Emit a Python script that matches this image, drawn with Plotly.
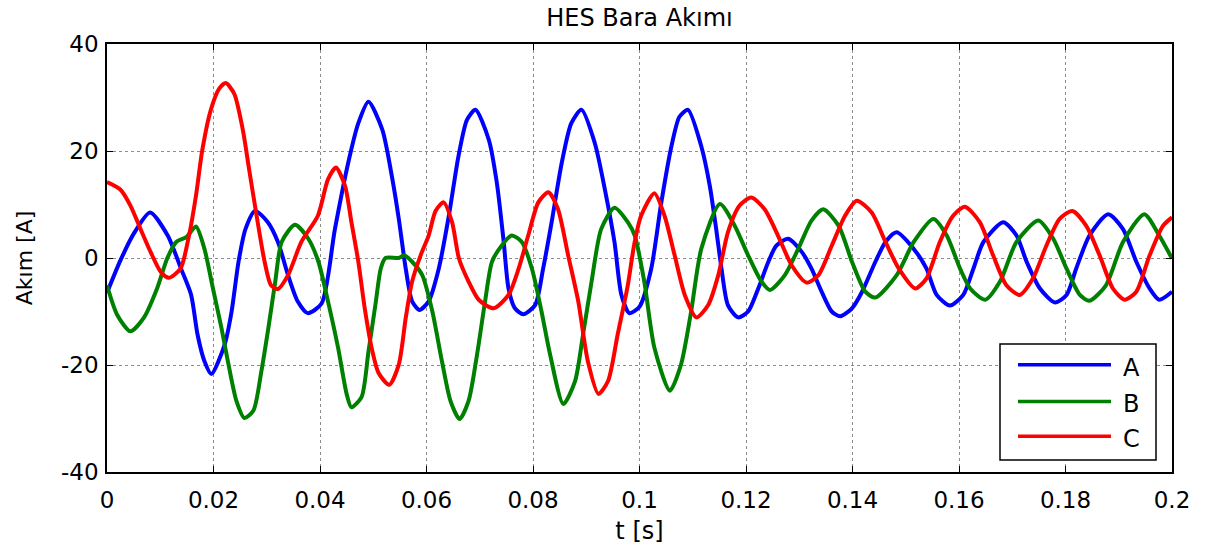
import plotly.graph_objects as go

# ── DATA ──────────────────────────────────────────────────────────────────────
t_a = [0.0, 0.0025, 0.0050, 0.0081, 0.0114, 0.0139, 0.0158, 0.0170, 0.0183, 0.0196,
       0.0221, 0.0234, 0.0247, 0.0260, 0.0278, 0.0302, 0.0321, 0.0340, 0.0358, 0.0377,
       0.0403, 0.0428, 0.0453, 0.0472, 0.0491, 0.0517, 0.0536, 0.0548, 0.0561, 0.0573,
       0.0587, 0.0604, 0.0623, 0.0642, 0.0660, 0.0676, 0.0692, 0.0717, 0.0732, 0.0745,
       0.0754, 0.0766, 0.0782, 0.0804, 0.0819, 0.0835, 0.0854, 0.0872, 0.0891, 0.0916,
       0.0935, 0.0953, 0.0966, 0.0981, 0.1000, 0.1022, 0.1041, 0.1060, 0.1075, 0.1091,
       0.1116, 0.1132, 0.1144, 0.1154, 0.1166, 0.1185, 0.1204, 0.1223, 0.1242, 0.1257,
       0.1279, 0.1305, 0.1323, 0.1342, 0.1361, 0.1377, 0.1399, 0.1418, 0.1443, 0.1462,
       0.1483, 0.1515, 0.1539, 0.1558, 0.1583, 0.1608, 0.1627, 0.1646, 0.1683, 0.1708,
       0.1727, 0.1752, 0.1780, 0.1802, 0.1820, 0.1845, 0.1880, 0.1908, 0.1933, 0.1958,
       0.1976, 0.2000]
i_a = [-6.5, -0.5, 4.5, 8.5, 4.2, -2.0, -6.9, -14.3, -19.3, -21.7,
       -16.2, -10.0, -0.7, 5.4, 8.8, 6.7, 3.0, -3.2, -8.1, -10.3,
       -8.5, 5.4, 17.8, 25.2, 29.2, 24.0, 14.7, 7.3, -2.0, -8.1,
       -9.7, -8.1, -2.0, 7.9, 19.0, 25.8, 27.7, 22.1, 14.1, 3.0,
       -5.7, -9.4, -10.5, -8.8, -2.0, 6.7, 17.8, 25.2, 27.7, 21.5,
       12.8, 3.0, -6.9, -10.3, -9.1, -2.0, 10.4, 20.9, 26.4, 27.7,
       20.9, 13.5, 5.4, -2.0, -8.8, -11.1, -10.0, -5.7, -0.7, 2.3,
       3.6, 1.1, -2.0, -6.3, -10.0, -10.9, -9.4, -6.3, -0.7, 3.0,
       4.8, 1.7, -2.0, -6.9, -8.9, -6.9, -2.0, 3.0, 6.7, 4.2,
       -0.7, -5.7, -8.3, -6.9, -2.0, 4.2, 8.2, 5.4, -0.7, -5.7,
       -7.8, -6.3]

t_b = [0.0, 0.0019, 0.0044, 0.0069, 0.0094, 0.0113, 0.0130, 0.0149, 0.0167, 0.0183,
       0.0199, 0.0215, 0.0227, 0.0243, 0.0258, 0.0275, 0.0290, 0.0303, 0.0316, 0.0328,
       0.0353, 0.0378, 0.0397, 0.0415, 0.0434, 0.0450, 0.0459, 0.0478, 0.0491, 0.0505,
       0.0514, 0.0523, 0.0548, 0.0558, 0.0573, 0.0592, 0.0611, 0.0629, 0.0645, 0.0662,
       0.0679, 0.0695, 0.0710, 0.0723, 0.0741, 0.0760, 0.0779, 0.0798, 0.0816, 0.0832,
       0.0857, 0.0879, 0.0894, 0.0910, 0.0928, 0.0953, 0.0978, 0.0991, 0.1009, 0.1028,
       0.1057, 0.1078, 0.1097, 0.1116, 0.1151, 0.1179, 0.1204, 0.1229, 0.1245, 0.1273,
       0.1298, 0.1323, 0.1345, 0.1374, 0.1399, 0.1424, 0.1443, 0.1483, 0.1515, 0.1552,
       0.1577, 0.1602, 0.1621, 0.1649, 0.1677, 0.1708, 0.1749, 0.1777, 0.1802, 0.1827,
       0.1845, 0.1876, 0.1908, 0.1948, 0.1976, 0.2000]
i_b = [-5.1, -10.6, -13.7, -11.2, -5.7, -0.1, 3.0, 3.9, 5.9, 1.7,
       -5.7, -13.1, -19.3, -26.7, -29.9, -28.5, -21.1, -13.1, -4.4, 3.0,
       6.2, 3.6, -0.7, -8.1, -16.8, -25.4, -27.9, -26.0, -17.5, -8.1,
       -2.0, 0.0, 0.0, 0.5, -0.7, -3.2, -10.0, -19.3, -26.7, -30.1,
       -26.7, -18.0, -8.1, -0.7, 2.3, 4.2, 3.0, -2.0, -10.0, -18.0,
       -27.3, -23.0, -14.3, -4.4, 5.4, 9.4, 6.7, 4.2, -4.4, -16.8,
       -24.8, -19.9, -10.0, 1.7, 10.1, 6.0, 0.5, -4.4, -6.0, -3.2,
       1.7, 7.0, 9.1, 6.0, -0.7, -6.3, -7.4, -3.2, 3.0, 7.3,
       4.2, -2.0, -5.7, -7.8, -4.4, 3.0, 7.0, 3.6, -2.0, -6.9,
       -8.0, -5.1, 3.0, 8.2, 4.2, -0.1]

t_c = [0.0, 0.0025, 0.0044, 0.0063, 0.0082, 0.0101, 0.0116, 0.0138, 0.0154, 0.0167,
       0.0179, 0.0195, 0.0211, 0.0223, 0.0239, 0.0255, 0.0267, 0.0280, 0.0296, 0.0308,
       0.0321, 0.0340, 0.0365, 0.0396, 0.0415, 0.0430, 0.0447, 0.0459, 0.0472, 0.0484,
       0.0497, 0.0510, 0.0530, 0.0548, 0.0561, 0.0573, 0.0589, 0.0604, 0.0617, 0.0632,
       0.0648, 0.0661, 0.0679, 0.0698, 0.0726, 0.0754, 0.0773, 0.0791, 0.0810, 0.0829,
       0.0847, 0.0866, 0.0885, 0.0903, 0.0923, 0.0941, 0.0959, 0.0978, 0.0990, 0.1003,
       0.1028, 0.1047, 0.1066, 0.1085, 0.1107, 0.1129, 0.1148, 0.1166, 0.1188, 0.1210,
       0.1235, 0.1260, 0.1286, 0.1314, 0.1336, 0.1361, 0.1386, 0.1408, 0.1436, 0.1462,
       0.1487, 0.1518, 0.1539, 0.1564, 0.1589, 0.1611, 0.1639, 0.1664, 0.1689, 0.1714,
       0.1739, 0.1764, 0.1789, 0.1813, 0.1839, 0.1864, 0.1889, 0.1911, 0.1933, 0.1958,
       0.1983, 0.2000]
i_c = [14.2, 12.8, 9.8, 5.4, 1.1, -2.6, -3.7, -2.0, 4.2, 11.6,
       20.2, 27.7, 31.7, 32.7, 30.7, 24.0, 16.5, 8.5, -0.7, -5.1,
       -5.8, -3.2, 3.0, 7.9, 14.7, 16.9, 13.5, 6.7, -0.7, -9.4,
       -16.8, -21.5, -23.7, -19.9, -11.2, -4.4, 0.5, 4.2, 8.8, 10.4,
       6.7, -0.1, -4.4, -7.8, -9.4, -6.9, -2.0, 4.2, 10.4, 12.3,
       9.1, 0.5, -8.1, -19.3, -25.4, -23.0, -14.3, -5.1, 2.5, 7.9,
       12.1, 7.9, 0.5, -6.9, -11.1, -8.8, -3.2, 4.8, 9.8, 11.3,
       9.1, 4.2, -1.4, -4.6, -3.2, 2.3, 7.9, 10.7, 8.5, 3.0,
       -2.0, -5.7, -3.8, 3.0, 7.9, 9.6, 6.7, 0.5, -5.1, -6.9,
       -3.8, 2.3, 7.3, 8.8, 6.0, 0.5, -5.7, -7.8, -6.3, 0.5,
       6.0, 7.6]

names = ["A", "B", "C"]
colors = ["#0000FF", "#008000", "#FF0000"]

x_ticks = [0, 0.02, 0.04, 0.06, 0.08, 0.1, 0.12, 0.14, 0.16, 0.18, 0.2]
x_ticktext = ["0", "0.02", "0.04", "0.06", "0.08", "0.1", "0.12", "0.14", "0.16", "0.18", "0.2"]
y_ticks = [-40, -20, 0, 20, 40]
y_ticktext = ["-40", "-20", "0", "20", "40"]

FONT = "DejaVu Sans, Liberation Sans, Arial, sans-serif"

W, H = 1205, 552
L, R, T, B = 107, 1172, 44, 475   # plot area in page pixels

# ── PLOT ──────────────────────────────────────────────────────────────────────
fig = go.Figure()
for tt, ii, nm, col in zip([t_a, t_b, t_c], [i_a, i_b, i_c], names, colors):
    fig.add_trace(go.Scatter(
        x=tt, y=ii, name=nm, mode="lines",
        line=dict(color=col, width=4, shape="spline", smoothing=0.7),
        showlegend=False,
    ))

axis_common = dict(
    showline=True, linecolor="black", linewidth=1.5, mirror="ticks",
    ticks="inside", ticklen=6, tickcolor="black",
    showgrid=True, gridcolor="rgba(0,0,0,0.45)", griddash="dot", gridwidth=1,
    zeroline=False,
    tickfont=dict(family=FONT, size=23, color="black"),
)

fig.update_xaxes(
    range=[0, 0.2], tickvals=x_ticks, ticktext=x_ticktext, ticklabelstandoff=7,
    title=dict(text="t [s]", font=dict(family=FONT, size=24, color="black"), standoff=10),
    **axis_common,
)
fig.update_yaxes(
    range=[-40, 40], tickvals=y_ticks, ticktext=y_ticktext, ticklabelstandoff=2,
    title=dict(text="Akım [A]", font=dict(family=FONT, size=22, color="black"), standoff=22),
    **axis_common,
)

# legend box drawn in MATLAB style (long line samples)
def px(x):
    return (x - L) / (R - L)
def py(y):
    return (B - y) / (B - T)

fig.add_shape(type="rect", xref="paper", yref="paper",
              x0=px(1000), x1=px(1156), y0=py(463), y1=py(346),
              line=dict(color="black", width=1.5), fillcolor="white", layer="above")
for k, (nm, col) in enumerate(zip(names, colors)):
    yy = [367, 404, 439][k]
    fig.add_shape(type="line", xref="paper", yref="paper",
                  x0=px(1018), x1=px(1111), y0=py(yy), y1=py(yy),
                  line=dict(color=col, width=3.5), layer="above")
    fig.add_annotation(xref="paper", yref="paper", x=px(1121), y=py(yy + 3),
                       text=nm, showarrow=False, xanchor="left", yanchor="middle",
                       font=dict(family=FONT, size=24, color="black"))

fig.update_layout(
    width=W, height=H,
    paper_bgcolor="white", plot_bgcolor="white",
    margin=dict(l=L, r=W - R, t=T, b=H - B),
    title=dict(text="HES Bara Akımı", x=(L + R) / 2 / W, xanchor="center",
               y=1 - 18 / H, yanchor="middle",
               font=dict(family=FONT, size=24, color="black")),
)

# drop the default 8px page margin so the figure sits at the window origin
fig.write_html("out.html", config={"displayModeBar": False},
               post_script="document.body.style.margin='0';")
